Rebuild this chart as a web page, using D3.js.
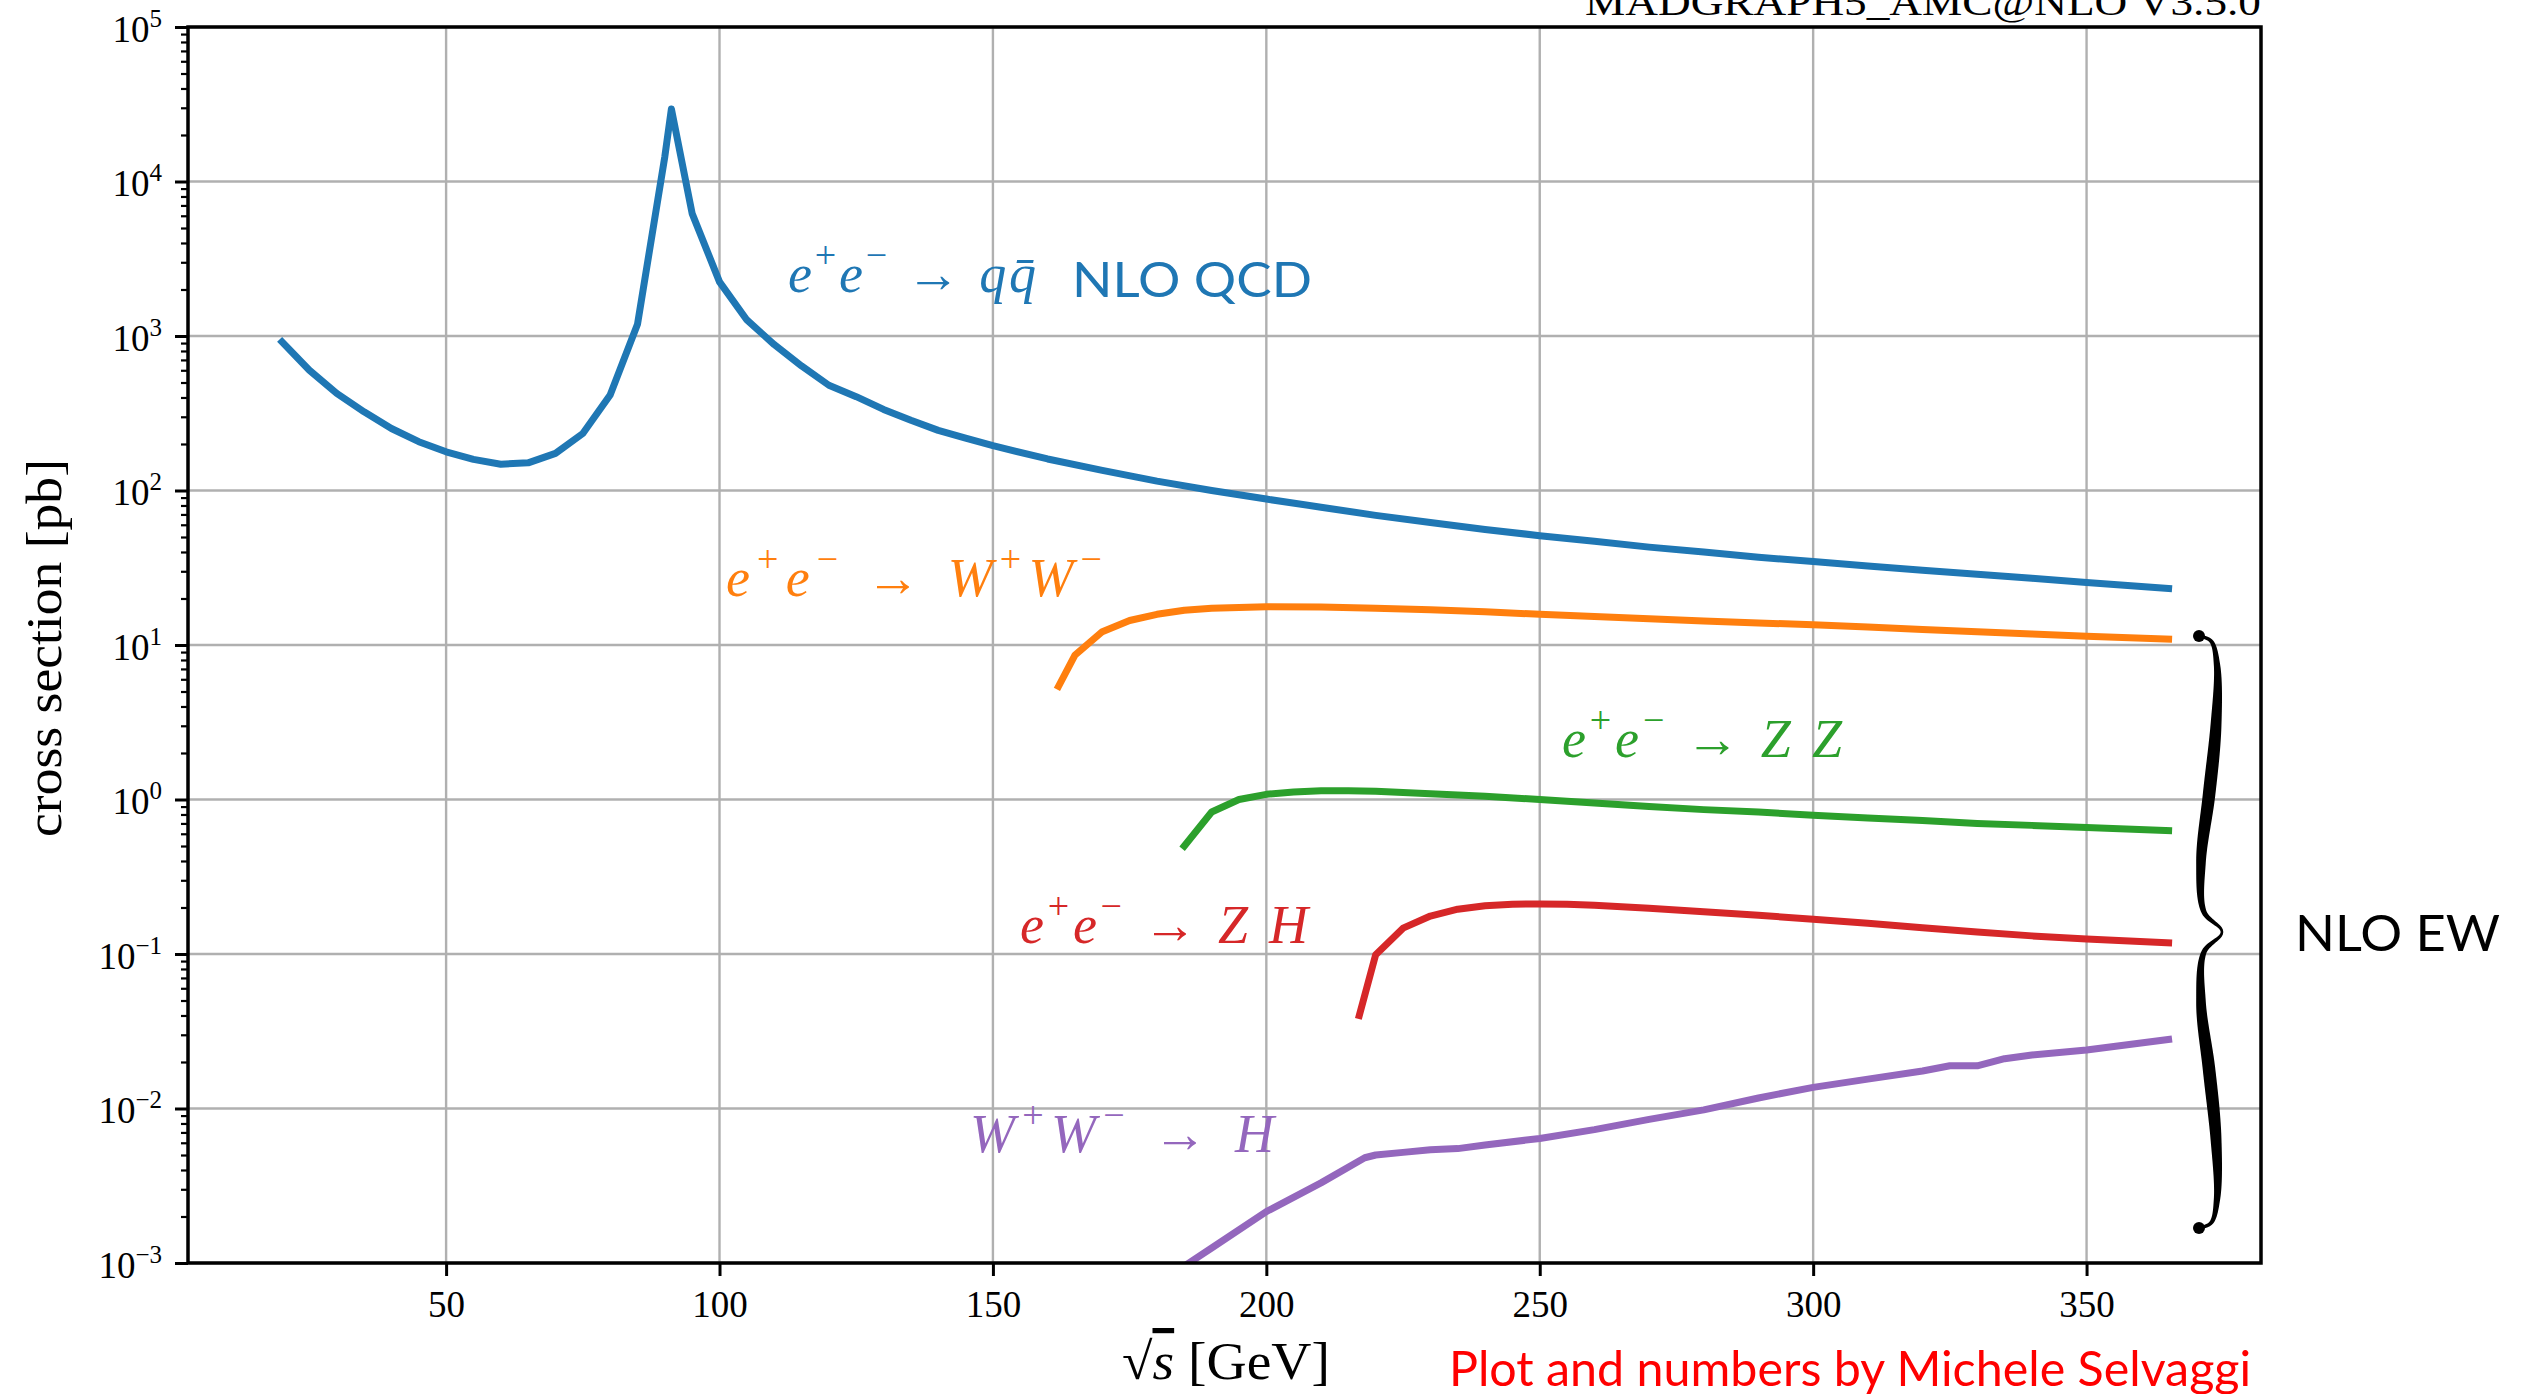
<!DOCTYPE html>
<html>
<head>
<meta charset="utf-8">
<script src="https://cdn.jsdelivr.net/npm/d3@7"></script>
<style>
  body { margin: 0; background: #fff; }
</style>
</head>
<body>
<script>
// cross sections, in pb, vs sqrt(s) in GeV
const qqE = [20, 25, 30, 35, 40, 45, 50, 55, 60, 65, 70, 75, 80, 85, 90, 91.2, 95, 100, 105, 110,
  115, 120, 125, 130, 135, 140, 145, 150, 160, 170, 180, 190, 200, 210, 220, 230, 240, 250,
  260, 270, 280, 290, 300, 310, 320, 330, 340, 350, 365];
const qqXS = [915, 600, 425, 323, 252, 207, 178, 159, 148, 151, 174, 234, 415, 1190, 14500, 29500, 6200, 2240, 1270, 880,
  640, 480, 405, 335, 285, 245, 218, 195, 160, 135, 115, 100, 88, 78, 69, 62, 56, 51,
  47, 43, 40, 37, 34.7, 32.5, 30.5, 28.7, 27, 25.4, 23.2];

const wwE = [162, 165, 170, 175, 180, 185, 190, 195, 200, 210, 220, 230, 240, 250, 260, 270, 280, 290, 300, 310, 320, 330, 340, 350, 365];
const wwXS = [5.4, 8.6, 12.2, 14.4, 15.8, 16.8, 17.3, 17.5, 17.7, 17.6, 17.3, 16.9, 16.4, 15.8, 15.3, 14.8, 14.3, 13.9, 13.5, 13.1, 12.6, 12.2, 11.8, 11.4, 10.9];

const zzE = [185, 190, 195, 200, 205, 210, 215, 220, 230, 240, 250, 260, 270, 280, 290, 300, 310, 320, 330, 340, 350, 365];
const zzXS = [0.50, 0.83, 1.0, 1.08, 1.12, 1.14, 1.14, 1.13, 1.09, 1.05, 1.0, 0.95, 0.90, 0.86, 0.83, 0.79, 0.76, 0.73, 0.70, 0.68, 0.66, 0.63];

const zhE = [217, 220, 225, 230, 235, 240, 245, 250, 255, 260, 270, 280, 290, 300, 310, 320, 330, 340, 350, 365];
const zhXS = [0.040, 0.099, 0.147, 0.176, 0.195, 0.205, 0.210, 0.211, 0.210, 0.207, 0.198, 0.188, 0.178, 0.168, 0.158, 0.148, 0.139, 0.131, 0.125, 0.118];

const wwhE = [180, 190, 200, 210, 218, 220, 225, 230, 235, 240, 250, 260, 270, 280, 290, 300, 310, 320, 325, 330, 335, 340, 350, 365];
const wwhXS = [0.00073, 0.00125, 0.00215, 0.0033, 0.0048, 0.0050, 0.0052, 0.0054, 0.0055, 0.0058, 0.0064, 0.0073, 0.0085, 0.0098, 0.0117, 0.0137, 0.0155, 0.0175, 0.0189, 0.0189, 0.0210, 0.0222, 0.0239, 0.0280];

const xTicks = [50, 100, 150, 200, 250, 300, 350];
const yExps = [-3, -2, -1, 0, 1, 2, 3, 4, 5];

const W = 2523, H = 1394;
const plot = { left: 188, top: 27, right: 2261, bottom: 1263 };
const serif = "'Liberation Serif','DejaVu Serif',serif";
const sans = "Lato,'Open Sans',sans-serif";

const svg = d3.select("body").append("svg").attr("width", W).attr("height", H);

const x = d3.scaleLinear().domain([2.8, 381.9]).range([plot.left, plot.right]);
const y = d3.scaleLog().domain([1e-3, 1e5]).range([plot.bottom, plot.top]);

// grid
svg.append("g").selectAll("line").data(xTicks).enter().append("line")
  .attr("x1", d => x(d)).attr("x2", d => x(d))
  .attr("y1", plot.top).attr("y2", plot.bottom)
  .attr("stroke", "#b0b0b0").attr("stroke-width", 2.4);
svg.append("g").selectAll("line").data(yExps).enter().append("line")
  .attr("x1", plot.left).attr("x2", plot.right)
  .attr("y1", d => y(10 ** d)).attr("y2", d => y(10 ** d))
  .attr("stroke", "#b0b0b0").attr("stroke-width", 2.4);

// curves
svg.append("clipPath").attr("id", "clip").append("rect")
  .attr("x", plot.left).attr("y", plot.top)
  .attr("width", plot.right - plot.left).attr("height", plot.bottom - plot.top);

const line = d3.line().x(d => x(d[0])).y(d => y(d[1]));
const curves = [
  [qqE, qqXS, "#1f77b4"],
  [wwE, wwXS, "#ff7f0e"],
  [zzE, zzXS, "#2ca02c"],
  [zhE, zhXS, "#d62728"],
  [wwhE, wwhXS, "#9467bd"]
];
const cg = svg.append("g").attr("clip-path", "url(#clip)");
curves.forEach(([es, vs, col]) => {
  cg.append("path")
    .datum(d3.zip(es, vs))
    .attr("d", line)
    .attr("fill", "none")
    .attr("stroke", col)
    .attr("stroke-width", 7)
    .attr("stroke-linejoin", "round")
    .attr("stroke-linecap", "square");
});

// axes
const xAxis = svg.append("g")
  .attr("transform", `translate(0,${plot.bottom})`)
  .call(d3.axisBottom(x).tickValues(xTicks).tickSize(13).tickPadding(15));
xAxis.selectAll("text").style("font-family", serif).style("font-size", "37px").attr("fill", "#000");

const yAxis = svg.append("g")
  .attr("transform", `translate(${plot.left},0)`)
  .call(d3.axisLeft(y).tickValues(yExps.map(e => 10 ** e)).tickSize(13).tickPadding(13));
yAxis.selectAll("text")
  .style("font-family", serif).style("font-size", "37px").attr("fill", "#000")
  .attr("dy", "0.38em")
  .each(function (d) {
    const e = Math.round(Math.log10(d));
    const t = d3.select(this).text("");
    t.append("tspan").text("10");
    t.append("tspan").attr("dy", -15).style("font-size", "25px")
      .text(e < 0 ? "\u2212" + (-e) : String(e));
  });

const minor = [];
yExps.slice(0, -1).forEach(e => { for (let m = 2; m < 10; m++) minor.push(m * 10 ** e); });
svg.append("g")
  .attr("transform", `translate(${plot.left},0)`)
  .call(d3.axisLeft(y).tickValues(minor).tickSize(7).tickFormat(""))
  .call(g => g.select(".domain").remove())
  .selectAll("line").attr("stroke-width", 2.2);

[xAxis, yAxis].forEach(a => {
  a.select(".domain").remove();
  a.selectAll(".tick line").attr("stroke-width", 3);
});

svg.append("rect")
  .attr("x", plot.left).attr("y", plot.top)
  .attr("width", plot.right - plot.left).attr("height", plot.bottom - plot.top)
  .attr("fill", "none").attr("stroke", "#000").attr("stroke-width", 3.5);

// axis labels
svg.append("text")
  .attr("transform", "translate(61,648) rotate(-90)")
  .attr("text-anchor", "middle")
  .attr("textLength", 378).attr("lengthAdjust", "spacingAndGlyphs")
  .style("font-family", serif).style("font-size", "50px")
  .text("cross section [pb]");

const xl = svg.append("text")
  .attr("x", 1226).attr("y", 1379)
  .attr("text-anchor", "middle")
  .attr("textLength", 208).attr("lengthAdjust", "spacingAndGlyphs")
  .style("font-family", serif).style("font-size", "52px");
xl.append("tspan").text("\u221A");
xl.append("tspan").text("s").style("font-style", "italic").style("text-decoration", "overline");
xl.append("tspan").text(" [GeV]");

// title, cut at the top like the original
svg.append("text")
  .attr("x", 1585).attr("y", 15)
  .attr("textLength", 676).attr("lengthAdjust", "spacingAndGlyphs")
  .style("font-family", serif).style("font-size", "38px")
  .text("MADGRAPH5_AMC@NLO V3.5.0");

// process labels
function mathLabel(parts, px, py, color, len) {
  const t = svg.append("text").attr("x", px).attr("y", py).attr("fill", color)
    .attr("textLength", len).attr("lengthAdjust", "spacing")
    .style("font-family", serif).style("font-size", "54px");
  let up = 0;
  parts.forEach(([s, kind]) => {
    const sp = t.append("tspan").text(s);
    const want = kind === "sup" ? -24 : 0;
    if (want !== up) { sp.attr("dy", want - up); up = want; }
    if (kind === "sup") sp.style("font-size", "38px");
    if (kind === "it") sp.style("font-style", "italic");
  });
  return t;
}
const ee = [["e", "it"], ["+", "sup"], ["e", "it"], ["\u2212", "sup"], [" \u2192 ", "rm"]];

mathLabel([...ee, ["q", "it"], ["q\u0304", "it"]], 788, 292, "#1f77b4", 248);
mathLabel([...ee, ["W", "it"], ["+", "sup"], ["W", "it"], ["\u2212", "sup"]], 726, 596, "#ff7f0e", 376);
mathLabel([...ee, ["Z Z", "it"]], 1562, 757, "#2ca02c", 280);
mathLabel([...ee, ["Z H", "it"]], 1020, 943, "#d62728", 288);
mathLabel([["W", "it"], ["+", "sup"], ["W", "it"], ["\u2212", "sup"], [" \u2192 ", "rm"], ["H", "it"]], 970, 1152, "#9467bd", 304);

svg.append("text").attr("x", 1072).attr("y", 297)
  .attr("textLength", 240).attr("lengthAdjust", "spacingAndGlyphs")
  .attr("fill", "#1f77b4").style("font-family", sans).style("font-size", "48px")
  .text("NLO QCD");

svg.append("text").attr("x", 2295).attr("y", 951)
  .attr("textLength", 205).attr("lengthAdjust", "spacingAndGlyphs")
  .style("font-family", sans).style("font-size", "51px")
  .text("NLO EW");

svg.append("text").attr("x", 1449).attr("y", 1386)
  .attr("textLength", 802).attr("lengthAdjust", "spacingAndGlyphs")
  .attr("fill", "#ff0000").style("font-family", sans).style("font-size", "48px")
  .text("Plot and numbers by Michele Selvaggi");

// curly brace grouping the EW processes
const braceMid = [
  [2199, 636], [2211, 641], [2217, 665], [2216, 725], [2209, 795], [2201, 862], [2204, 912], [2222, 932],
  [2204, 952], [2201, 1002], [2209, 1069], [2216, 1139], [2217, 1199], [2211, 1223], [2199, 1228]
];
function drawBrace(pts) {
  const tmp = svg.append("path").attr("d", d3.line().curve(d3.curveCatmullRom)(pts));
  const node = tmp.node();
  const L = node.getTotalLength();
  const N = 300;
  const s = d3.range(N + 1).map(i => node.getPointAtLength(L * i / N));
  const a = [], b = [];
  s.forEach((p, i) => {
    const p0 = s[Math.max(0, i - 1)], p1 = s[Math.min(N, i + 1)];
    const dx = p1.x - p0.x, dy = p1.y - p0.y, len = Math.hypot(dx, dy) || 1;
    const t = i / N;
    const u = t < 0.5 ? t / 0.5 : (1 - t) / 0.5;
    const hw = 1.3 + 5 * Math.sin(Math.PI * u);
    a.push([p.x - dy / len * hw, p.y + dx / len * hw]);
    b.push([p.x + dy / len * hw, p.y - dx / len * hw]);
  });
  tmp.remove();
  const g = svg.append("g").attr("fill", "#000");
  g.append("path").attr("d", "M" + a.concat(b.reverse()).join("L") + "Z");
  [pts[0], pts[pts.length - 1]].forEach(p => g.append("circle").attr("cx", p[0]).attr("cy", p[1]).attr("r", 6));
}
drawBrace(braceMid);
</script>
</body>
</html>
